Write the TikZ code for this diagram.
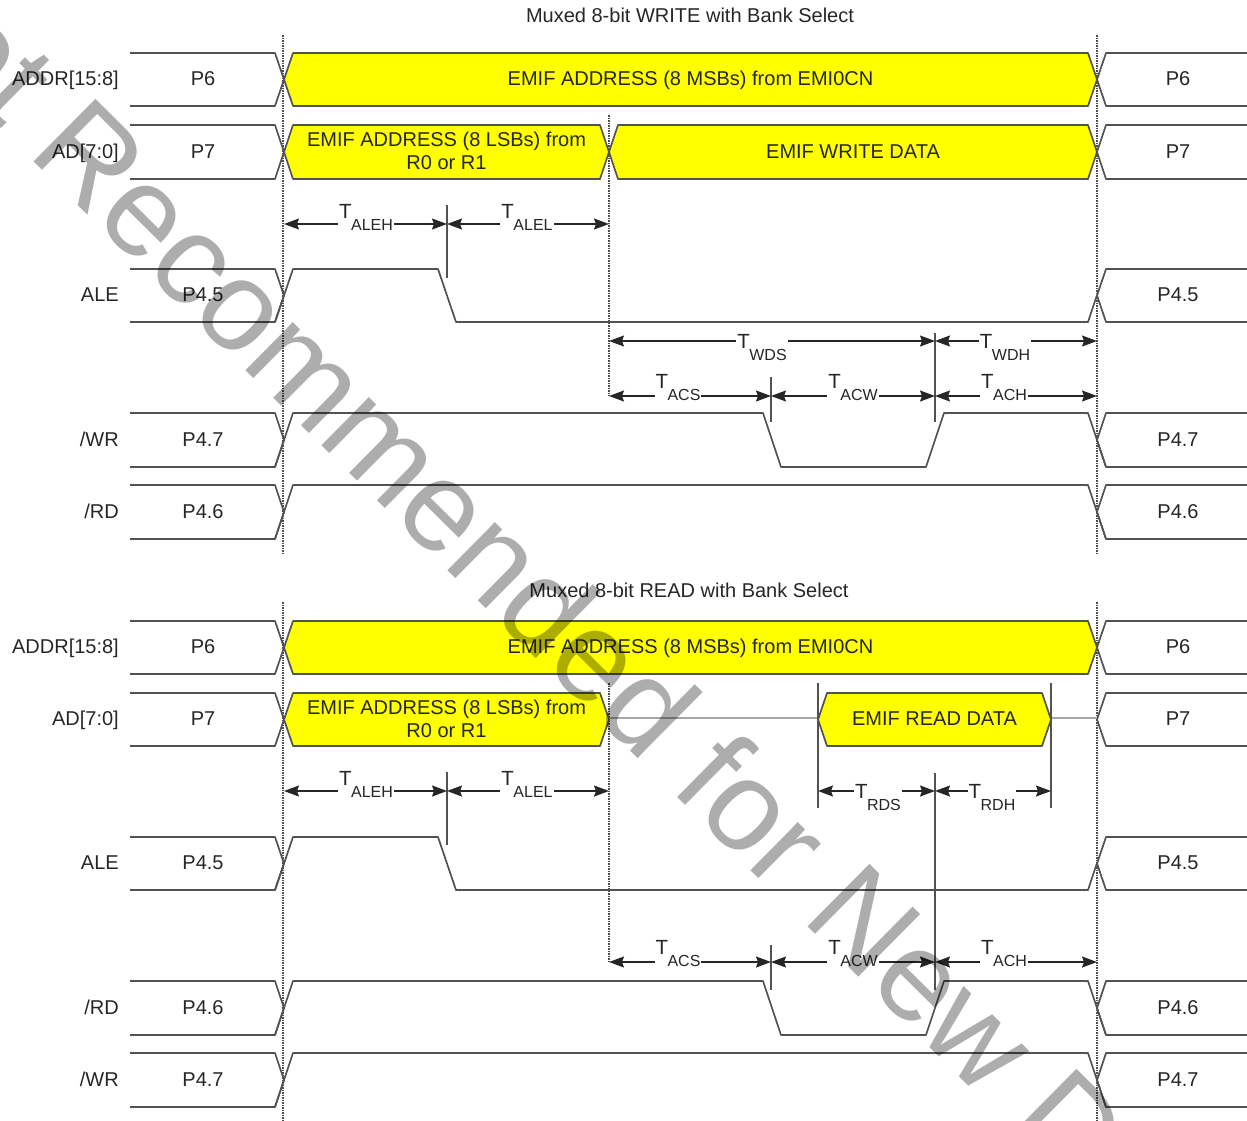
\documentclass[tikz,border=0pt]{standalone}
\usepackage{fontspec}
\setmainfont{Liberation Sans}
\usetikzlibrary{arrows.meta,calc,positioning}
\definecolor{busyellow}{RGB}{255,255,0}
\definecolor{stampgray}{RGB}{173,173,173}
\newcommand{\lblfont}{\fontsize{20}{23}\selectfont}
\newcommand{\tlbl}[1]{\fontsize{20.5}{25}\selectfont T\kern-0.5pt\raisebox{-12pt}{\fontsize{16}{20}\selectfont #1}}

\begin{document}
\begin{tikzpicture}[x=1pt, y=-1pt, >={Stealth[length=15pt,width=11pt,inset=2pt]},
    wave/.style={draw=black!68, line width=1.7pt, line join=round},
    bus/.style={wave, fill=busyellow},
    hiz/.style={draw=black!35, line width=1.8pt},
    tick/.style={draw=black!68, line width=1.4pt},
    guide/.style={draw=black!70, line width=1.5pt, densely dotted},
    span/.style={<->, draw=black!85, line width=1.4pt},
    txt/.style={inner sep=0pt, font=\lblfont, text=black!85, text height=14.4pt, text depth=0pt},
    twoline/.style={inner sep=0pt, font=\lblfont, text=black!85, align=center},
    sig/.style={txt, anchor=east},
    tim/.style={fill=white, inner sep=1pt, anchor=base, text=black!85}]
  \useasboundingbox (0,0) rectangle (1247,1120);
  \clip (0,0) rectangle (1247,1120);
  % guides
  \foreach \xg/\ya/\yb in {283/35/555, 1097/35/555, 609/115/396, 283/602/1120, 1097/602/1120, 609/683/962}
    \draw[guide] (\xg,\ya) -- (\xg,\yb);
  % left and right port segments of one signal row
  \newcommand{\sigrow}[5]{% id, top, bottom, name, port
    \draw[wave] (130,#2) -- (275,#2) -- (284,{(#2+#3)/2}) -- (275,#3) -- (130,#3);
    \draw[wave] (1247,#2) -- (1106,#2) -- (1097,{(#2+#3)/2}) -- (1106,#3) -- (1247,#3);
    \node[sig] (name#1) at (119,{(#2+#3)/2-1}) {#4};
    \node[txt] (portl#1) at (203,{(#2+#3)/2-1}) {#5};
    \node[txt] (portr#1) at (1178,{(#2+#3)/2-1}) {#5};}
  % yellow bus cell
  \newcommand{\buscell}[5]{% x_a, x_b, top, bottom, id
    \draw[bus] (#1,{(#3+#4)/2}) -- (#1+9,#3) -- (#2-9,#3) -- (#2,{(#3+#4)/2}) -- (#2-9,#4) -- (#1+9,#4) -- cycle;
    \coordinate (#5) at ({(#1+#2)/2},{(#3+#4)/2-1});}
  % span with its label, T baseline given relative to the line
  \newcommand{\tspan}[6]{% x_a, x_b, y, label x, T baseline offset, label
    \draw[span] (#1,#3) -- (#2,#3);
    \node[tim] at (#4,#3+#5) {\tlbl{#6}};}
  % ---- WRITE
  \node[txt] (titlew) at (690,15) {Muxed 8-bit WRITE with Bank Select};
  \sigrow{a}{53}{106}{ADDR[15:8]}{P6}
  \sigrow{b}{125}{179}{AD[7:0]}{P7}
  \sigrow{c}{269}{322}{ALE}{P4.5}
  \sigrow{d}{413}{467}{/WR}{P4.7}
  \sigrow{e}{485}{539}{/RD}{P4.6}
  \buscell{284}{1097}{53}{106}{wa}
  \node[txt] at (wa) {EMIF ADDRESS (8 MSBs) from EMI0CN};
  \buscell{284}{609}{125}{179}{wb}
  \node[twoline] at (wb) {EMIF ADDRESS (8 LSBs) from\\R0 or R1};
  \buscell{609}{1097}{125}{179}{wc}
  \node[txt] at (wc) {EMIF WRITE DATA};
  % ALE
  \draw[wave] (275,322) -- (293,269) -- (438,269) -- (456,322) -- (1088,322) -- (1097,295);
  % /WR
  \draw[wave] (275,467) -- (293,413) -- (763,413) -- (781,467) -- (926,467) -- (944,413) -- (1088,413) -- (1106,467);
  % /RD
  \draw[wave] (275,539) -- (293,485) -- (1088,485) -- (1106,539);
  % ticks
  \foreach \xt/\ya/\yb in {447/205/278, 771/377/422, 935/333/422}
    \draw[tick] (\xt,\ya) -- (\xt,\yb);
  \tspan{284}{447}{224}{366}{-6}{ALEH}
  \tspan{447}{609}{224}{527}{-6}{ALEL}
  \tspan{609}{935}{341}{762}{7}{WDS}
  \tspan{935}{1097}{341}{1005}{7}{WDH}
  \tspan{609}{771}{396}{678}{-8}{ACS}
  \tspan{771}{935}{396}{853}{-8}{ACW}
  \tspan{935}{1097}{396}{1004}{-8}{ACH}
  % ---- READ
  \node[txt] (titler) at (689,590) {Muxed 8-bit READ with Bank Select};
  \sigrow{f}{621}{674}{ADDR[15:8]}{P6}
  \sigrow{g}{693}{746}{AD[7:0]}{P7}
  \sigrow{h}{837}{890}{ALE}{P4.5}
  \sigrow{i}{981}{1035}{/RD}{P4.6}
  \sigrow{j}{1053}{1107}{/WR}{P4.7}
  \buscell{284}{1097}{621}{674}{ra}
  \node[txt] at (ra) {EMIF ADDRESS (8 MSBs) from EMI0CN};
  \buscell{284}{609}{693}{746}{rb}
  \node[twoline] at (rb) {EMIF ADDRESS (8 LSBs) from\\R0 or R1};
  \draw[hiz] (609,718) -- (818,718);
  \draw[hiz] (1051,718) -- (1097,718);
  \buscell{818}{1051}{693}{746}{rc}
  \node[txt] at (rc) {EMIF READ DATA};
  % ALE
  \draw[wave] (275,890) -- (293,837) -- (438,837) -- (456,890) -- (1088,890) -- (1097,863);
  % /RD
  \draw[wave] (275,1035) -- (293,981) -- (763,981) -- (781,1035) -- (926,1035) -- (944,981) -- (1088,981) -- (1106,1035);
  % /WR
  \draw[wave] (275,1107) -- (293,1053) -- (1088,1053) -- (1106,1107);
  % ticks
  \foreach \xt/\ya/\yb in {447/772/845, 818/683/808, 1051/683/808, 771/945/990, 935/773/990}
    \draw[tick] (\xt,\ya) -- (\xt,\yb);
  \tspan{284}{447}{791}{366}{-6}{ALEH}
  \tspan{447}{609}{791}{527}{-6}{ALEL}
  \tspan{818}{935}{791}{878}{7}{RDS}
  \tspan{935}{1051}{791}{992}{7}{RDH}
  \tspan{609}{771}{962}{678}{-8}{ACS}
  \tspan{771}{935}{962}{853}{-8}{ACW}
  \tspan{935}{1097}{962}{1004}{-8}{ACH}
  % watermark
  \begin{scope}[blend mode=multiply]
    \node[anchor=base west, rotate=-44.7, inner sep=0pt, text=stampgray,
          font=\fontsize{128}{128}\selectfont] (stamp) at (-140,-11) {Not Recommended for New Designs};
  \end{scope}
\end{tikzpicture}
\end{document}
